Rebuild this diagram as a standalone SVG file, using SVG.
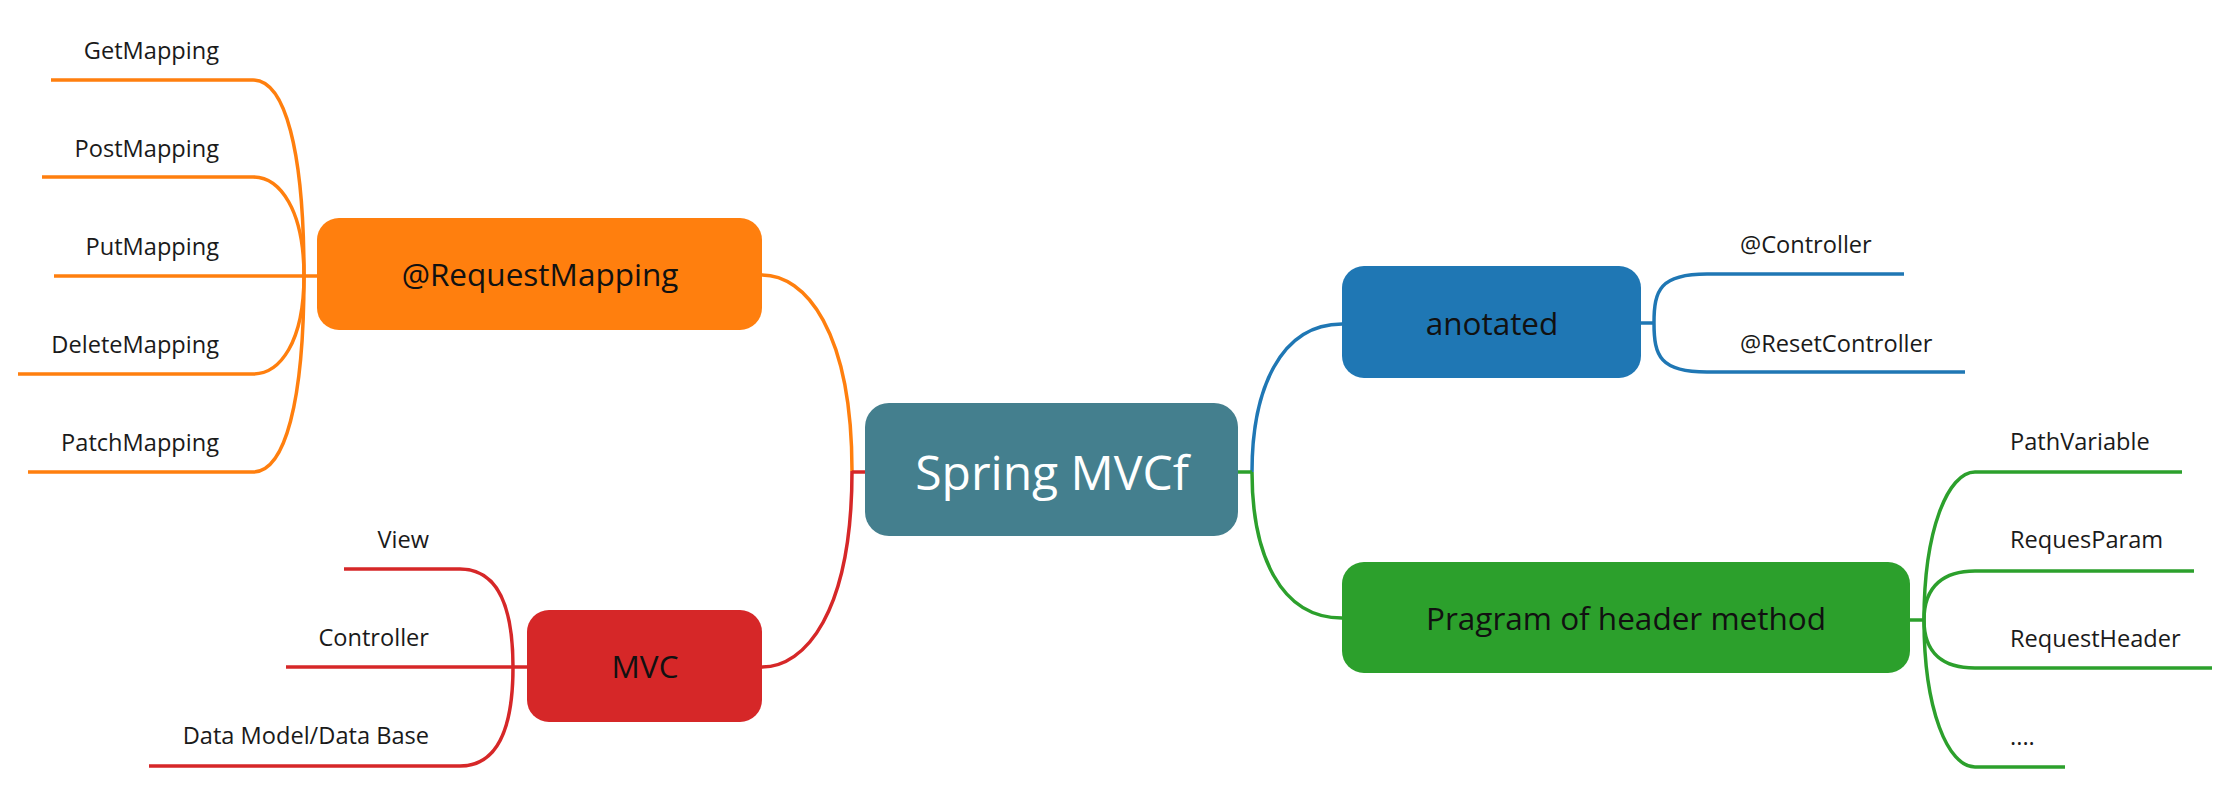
<svg xmlns="http://www.w3.org/2000/svg" width="2238" height="803" viewBox="0 0 2238 803">
<style>
.ln{fill:none;stroke-width:3.5;stroke-linecap:butt}
.o{stroke:#FF7F0E}.r{stroke:#D62728}.b{stroke:#1F77B4}.g{stroke:#2CA02C}
.leaf{font-family:"Open Sans","Noto Sans",sans-serif;font-size:23.6px;fill:#1a1a1a}
.nt{font-family:"Open Sans","Noto Sans",sans-serif;font-size:31.5px;fill:#111;text-anchor:middle}
.ct{font-family:"Open Sans","Noto Sans",sans-serif;font-size:48px;fill:#fff;text-anchor:middle}
.e{text-anchor:end}
</style>
<rect width="2238" height="803" fill="#fff"/>
<g id="connectors">
<path class="ln o" d="M762,275 C805,275 852,330 852,471"/>
<path class="ln r" d="M762,667 C805,667 852,613 852,471"/>
<path class="ln r" d="M852,472 H865"/>
<path class="ln b" d="M1252,472 C1252,390 1280,324 1342,324"/>
<path class="ln g" d="M1252,472 C1252,554 1280,618 1342,618"/>
<path class="ln g" d="M1238,472 H1252"/>
<path class="ln o" d="M51,80 H253 C285,80 304,150 304,276"/>
<path class="ln o" d="M42,177 H253 C280,177 304,210 304,276"/>
<path class="ln o" d="M54,276 H317"/>
<path class="ln o" d="M18,374 H253 C280,374 304,342 304,276"/>
<path class="ln o" d="M28,472 H253 C285,472 304,402 304,276"/>
<path class="ln r" d="M344,569 H460 C495,569 513,600 513,667"/>
<path class="ln r" d="M286,667 H527"/>
<path class="ln r" d="M149,766 H460 C495,766 513,734 513,667"/>
<path class="ln b" d="M1641,323 H1654"/>
<path class="ln b" d="M1904,274 H1707 C1660,274 1654,290 1654,323"/>
<path class="ln b" d="M1965,372 H1707 C1660,372 1654,356 1654,323"/>
<path class="ln g" d="M1910,620 H1924"/>
<path class="ln g" d="M2182,472 H1975 C1948,472 1924,530 1924,620"/>
<path class="ln g" d="M2194,571 H1975 C1945,571 1924,585 1924,620"/>
<path class="ln g" d="M2212,668 H1975 C1945,668 1924,655 1924,620"/>
<path class="ln g" d="M2065,767 H1975 C1948,767 1924,710 1924,620"/>
</g>
<g id="center">
<rect x="865" y="403" width="373" height="133" rx="24" fill="#447F8E"/>
<text class="ct" x="1052" y="490">Spring MVCf</text>
</g>
<g id="requestmapping">
<rect x="317" y="218" width="445" height="112" rx="22" fill="#FF7F0E"/>
<text class="nt" x="540" y="286">@RequestMapping</text>
</g>
<g id="mvc">
<rect x="527" y="610" width="235" height="112" rx="22" fill="#D62728"/>
<text class="nt" x="645" y="678">MVC</text>
</g>
<g id="anotated">
<rect x="1342" y="266" width="299" height="112" rx="22" fill="#1F77B4"/>
<text class="nt" x="1492" y="335">anotated</text>
</g>
<g id="pragram">
<rect x="1342" y="562" width="568" height="111" rx="22" fill="#2CA02C"/>
<text class="nt" x="1626" y="630">Pragram of header method</text>
</g>
<g id="leaves-orange">
<text class="leaf e" x="219" y="59">GetMapping</text>
<text class="leaf e" x="219" y="157">PostMapping</text>
<text class="leaf e" x="219" y="255">PutMapping</text>
<text class="leaf e" x="219" y="353">DeleteMapping</text>
<text class="leaf e" x="219" y="451">PatchMapping</text>
</g>
<g id="leaves-red">
<text class="leaf e" x="429" y="548">View</text>
<text class="leaf e" x="429" y="646">Controller</text>
<text class="leaf e" x="429" y="744">Data Model/Data Base</text>
</g>
<g id="leaves-blue">
<text class="leaf" x="1740" y="253">@Controller</text>
<text class="leaf" x="1740" y="352">@ResetController</text>
</g>
<g id="leaves-green">
<text class="leaf" x="2010" y="450">PathVariable</text>
<text class="leaf" x="2010" y="548">RequesParam</text>
<text class="leaf" x="2010" y="647">RequestHeader</text>
<text class="leaf" x="2010" y="745">....</text>
</g>
</svg>
